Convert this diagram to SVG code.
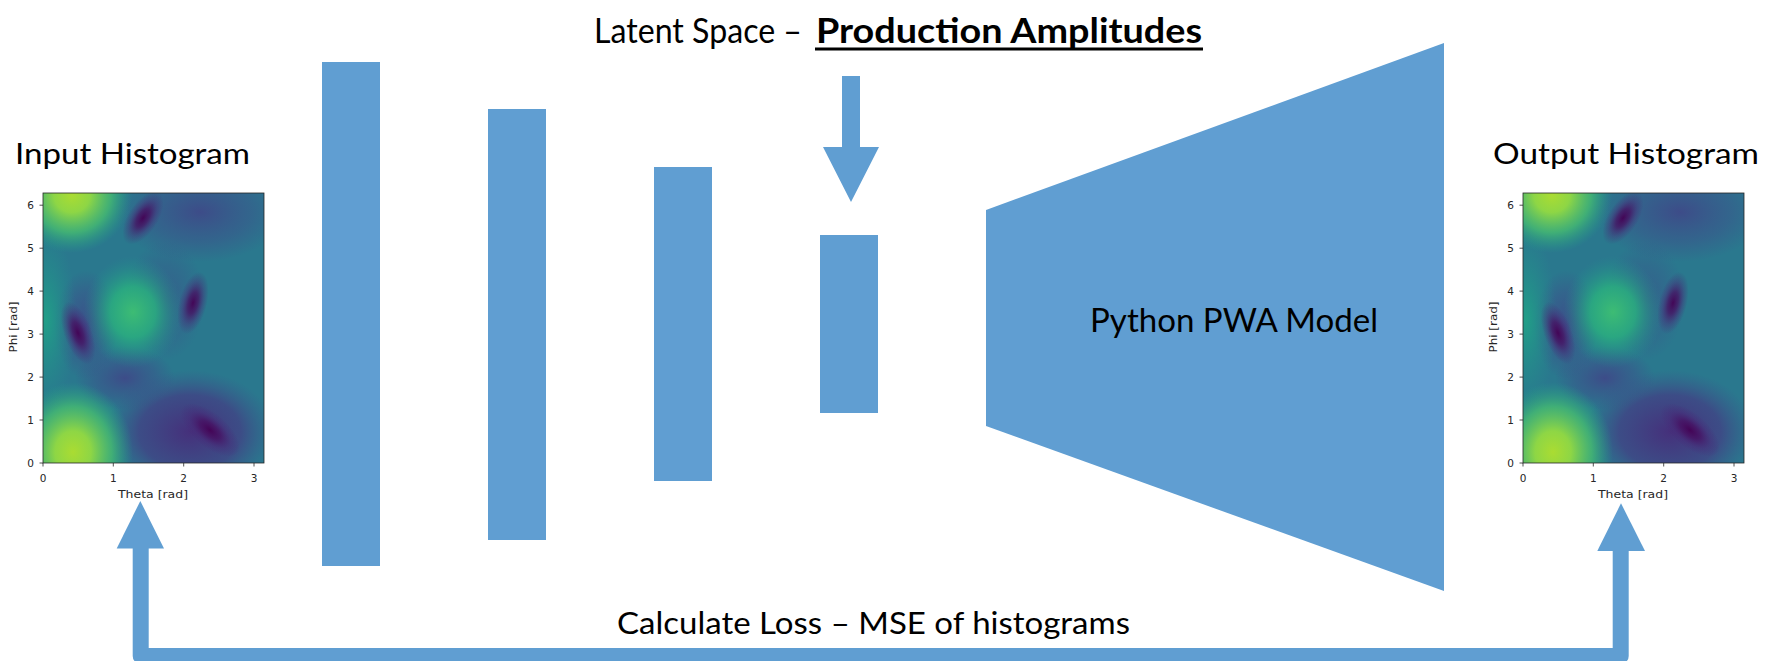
<svg xmlns="http://www.w3.org/2000/svg" xmlns:xlink="http://www.w3.org/1999/xlink" width="1767" height="661" viewBox="0 0 1767 661">
<style>
.blk{fill:#609ed2}
.lbl{font-family:Lato,'Liberation Sans',sans-serif;fill:#000}
.tick{font-family:'DejaVu Sans',sans-serif;font-size:10.5px;fill:#262626}
.ax{font-family:'DejaVu Sans',sans-serif;font-size:11px;fill:#262626}
.tk{stroke:#262626;stroke-width:0.8}
</style>
<defs>
<clipPath id="plotclip"><rect x="43" y="193" width="221" height="270"/></clipPath>
<radialGradient id="gYel"><stop offset="0" stop-color="#aadc32"/><stop offset="0.3" stop-color="#8ed645"/><stop offset="0.65" stop-color="#48c16e" stop-opacity="0.75"/><stop offset="1" stop-color="#22a884" stop-opacity="0"/></radialGradient>
<radialGradient id="gGrn"><stop offset="0" stop-color="#3dbc74"/><stop offset="0.45" stop-color="#2aaf7f" stop-opacity="0.85"/><stop offset="1" stop-color="#21918c" stop-opacity="0"/></radialGradient>
<radialGradient id="gDark"><stop offset="0" stop-color="#440154" stop-opacity="0.95"/><stop offset="0.35" stop-color="#470e61" stop-opacity="0.75"/><stop offset="0.7" stop-color="#482475" stop-opacity="0.35"/><stop offset="1" stop-color="#482475" stop-opacity="0"/></radialGradient>
<radialGradient id="gPurp"><stop offset="0" stop-color="#472c7a" stop-opacity="0.95"/><stop offset="0.6" stop-color="#443a83" stop-opacity="0.7"/><stop offset="1" stop-color="#3b528b" stop-opacity="0"/></radialGradient>
<radialGradient id="gBlue"><stop offset="0" stop-color="#3f4788" stop-opacity="0.9"/><stop offset="0.6" stop-color="#3b528b" stop-opacity="0.5"/><stop offset="1" stop-color="#3b528b" stop-opacity="0"/></radialGradient>
<radialGradient id="gTeal"><stop offset="0" stop-color="#20a386" stop-opacity="0.9"/><stop offset="1" stop-color="#21918c" stop-opacity="0"/></radialGradient>
<g id="hist">
<g clip-path="url(#plotclip)">
<rect x="43" y="193" width="221" height="270" fill="#2a788e"/>
<ellipse cx="200" cy="212" rx="85" ry="50" fill="url(#gBlue)"/>
<ellipse cx="190" cy="432" rx="85" ry="62" fill="url(#gPurp)"/>
<ellipse cx="125" cy="378" rx="50" ry="32" fill="url(#gBlue)"/>
<ellipse cx="86" cy="325" rx="32" ry="55" fill="url(#gBlue)"/>
<ellipse cx="165" cy="300" rx="40" ry="60" fill="url(#gBlue)" opacity="0.6"/>
<ellipse cx="46" cy="320" rx="30" ry="95" fill="url(#gTeal)"/>
<ellipse cx="73" cy="452" rx="60" ry="70" fill="url(#gYel)"/>
<ellipse cx="72" cy="195" rx="60" ry="58" fill="url(#gYel)"/>
<ellipse cx="133" cy="312" rx="50" ry="56" fill="url(#gGrn)"/>
<ellipse cx="143" cy="218" rx="15" ry="30" transform="rotate(33 143 218)" fill="url(#gDark)"/>
<ellipse cx="78" cy="333" rx="14" ry="33" transform="rotate(-20 78 333)" fill="url(#gDark)"/>
<ellipse cx="193" cy="303" rx="14" ry="32" transform="rotate(14 193 303)" fill="url(#gDark)"/>
<ellipse cx="210" cy="430" rx="17" ry="36" transform="rotate(-50 210 430)" fill="url(#gDark)"/>
</g>
<rect x="43" y="193" width="221" height="270" fill="none" stroke="#262626" stroke-width="0.8"/>
<g class="tk">
<line x1="39.5" y1="463" x2="43" y2="463"/><line x1="39.5" y1="420" x2="43" y2="420"/><line x1="39.5" y1="377.1" x2="43" y2="377.1"/><line x1="39.5" y1="334.1" x2="43" y2="334.1"/><line x1="39.5" y1="291.1" x2="43" y2="291.1"/><line x1="39.5" y1="248.2" x2="43" y2="248.2"/><line x1="39.5" y1="205.2" x2="43" y2="205.2"/>
<line x1="43" y1="463" x2="43" y2="466.5"/><line x1="113.3" y1="463" x2="113.3" y2="466.5"/><line x1="183.7" y1="463" x2="183.7" y2="466.5"/><line x1="254" y1="463" x2="254" y2="466.5"/>
</g>
<g class="tick" text-anchor="end">
<text x="34" y="466.8">0</text><text x="34" y="423.8">1</text><text x="34" y="380.9">2</text><text x="34" y="337.9">3</text><text x="34" y="294.9">4</text><text x="34" y="252">5</text><text x="34" y="209">6</text>
</g>
<g class="tick" text-anchor="middle">
<text x="43" y="482">0</text><text x="113.3" y="482">1</text><text x="183.7" y="482">2</text><text x="254" y="482">3</text>
</g>
<text class="ax" x="153" y="498" text-anchor="middle" textLength="70" lengthAdjust="spacingAndGlyphs">Theta [rad]</text>
<text class="ax" transform="translate(17,327) rotate(-90)" text-anchor="middle" textLength="51" lengthAdjust="spacingAndGlyphs">Phi [rad]</text>
</g>
</defs>

<g id="input-histogram">
<text class="lbl" x="15" y="164" font-size="28" textLength="235" lengthAdjust="spacingAndGlyphs">Input Histogram</text>
<use xlink:href="#hist" href="#hist"/>
</g>

<g id="output-histogram">
<text class="lbl" x="1493" y="164" font-size="28" textLength="266" lengthAdjust="spacingAndGlyphs">Output Histogram</text>
<use xlink:href="#hist" href="#hist" transform="translate(1480,0)"/>
</g>

<g id="title">
<text class="lbl" x="594" y="43" font-size="35" textLength="208" lengthAdjust="spacingAndGlyphs">Latent Space –</text>
<text class="lbl" x="816" y="43" font-size="35" font-weight="bold" textLength="386" lengthAdjust="spacingAndGlyphs">Production Amplitudes</text>
<rect x="815" y="47.5" width="388" height="3" fill="#000"/>
</g>

<g id="layer1"><rect class="blk" x="322" y="62" width="58" height="504"/></g>
<g id="layer2"><rect class="blk" x="488" y="109" width="58" height="431"/></g>
<g id="layer3"><rect class="blk" x="654" y="167" width="58" height="314"/></g>
<g id="latent"><rect class="blk" x="820" y="235" width="58" height="178"/></g>

<g id="pwa-model">
<polygon class="blk" points="986,210 1444,43 1444,591 986,426"/>
<text class="lbl" x="1090" y="332" font-size="33" textLength="288" lengthAdjust="spacingAndGlyphs">Python PWA Model</text>
</g>

<g id="connectors">
<polygon class="blk" points="842,76 860,76 860,147 879,147 851,202 823,147 842,147"/>
<path d="M140.7,548 V656 H1620.7 V550" fill="none" stroke="#609ed2" stroke-width="16" stroke-linejoin="round"/>
<polygon class="blk" points="140.3,501 164,548.5 116.7,548.5"/>
<polygon class="blk" points="1621,503.3 1645,551 1597.3,551"/>
</g>

<g id="loss-label">
<text class="lbl" x="617" y="634" font-size="30" textLength="513" lengthAdjust="spacingAndGlyphs">Calculate Loss – MSE of histograms</text>
</g>
</svg>
